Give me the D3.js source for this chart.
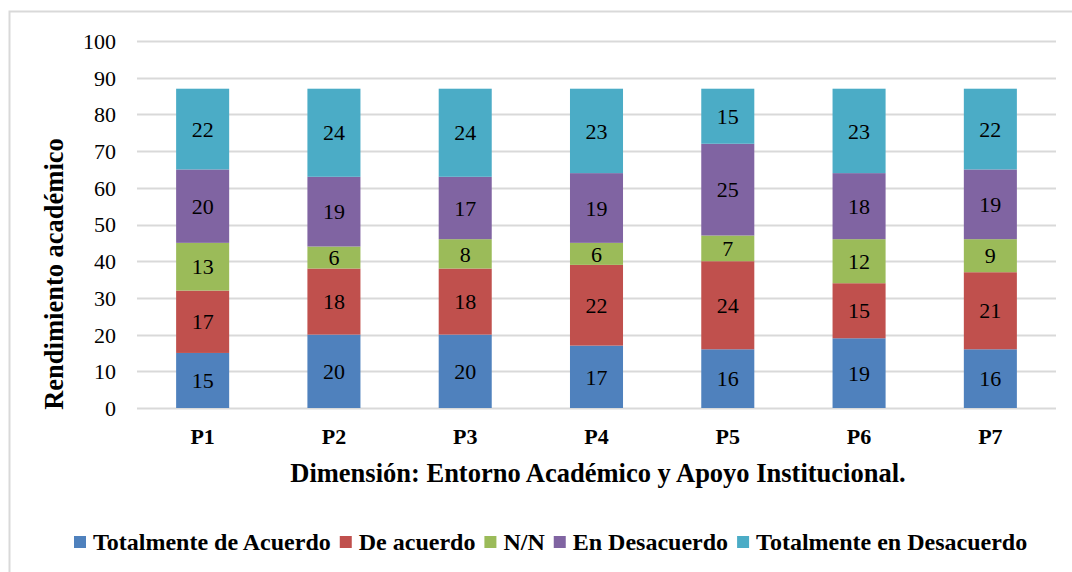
<!DOCTYPE html>
<html>
<head>
<meta charset="utf-8">
<script src="https://cdn.jsdelivr.net/npm/d3@7"></script>
<style>
  body { margin: 0; background: #fff; }
  svg { display: block; }
  svg text { font-family: "Liberation Serif", "Times New Roman", Times, serif; fill: #000; }
</style>
</head>
<body>
<svg id="chart" width="1072" height="572"></svg>
<script>
// Item labels on the x axis
const categories = ["P1", "P2", "P3", "P4", "P5", "P6", "P7"];
// Response categories, stacked bottom to top
const seriesNames = ["Totalmente de Acuerdo", "De acuerdo", "N/N", "En Desacuerdo", "Totalmente en Desacuerdo"];
const totalmenteDeAcuerdo   = [15, 20, 20, 17, 16, 19, 16];
const deAcuerdo             = [17, 18, 18, 22, 24, 15, 21];
const nn                    = [13, 6, 8, 6, 7, 12, 9];
const enDesacuerdo          = [20, 19, 17, 19, 25, 18, 19];
const totalmenteDesacuerdo  = [22, 24, 24, 23, 15, 23, 22];
const yTicks = [0, 10, 20, 30, 40, 50, 60, 70, 80, 90, 100];
const colors = ["#4F81BD", "#C0504D", "#9BBB59", "#8064A2", "#4BACC6"];

const seriesValues = [totalmenteDeAcuerdo, deAcuerdo, nn, enDesacuerdo, totalmenteDesacuerdo];
const rows = categories.map((c, i) => {
  const r = { cat: c };
  seriesNames.forEach((s, k) => r[s] = seriesValues[k][i]);
  return r;
});

const FONT = "Liberation Serif";
const svg = d3.select("#chart");
const plot = { left: 137, right: 1056, top: 41, bottom: 408 };

// Outer frame
svg.append("rect")
  .attr("x", 9.5).attr("y", 11.5)
  .attr("width", 1072).attr("height", 600)
  .attr("fill", "none").attr("stroke", "#d9d9d9").attr("stroke-width", 2);

const x = d3.scaleBand().domain(categories)
  .range([plot.left, plot.right]).paddingInner(0.596).paddingOuter(0.298);
const y = d3.scaleLinear().domain([0, 100]).range([plot.bottom, plot.top]);

// Gridlines
svg.append("g").selectAll("line").data(yTicks).join("line")
  .attr("x1", plot.left).attr("x2", plot.right)
  .attr("y1", d => Math.round(y(d)) + 0.5).attr("y2", d => Math.round(y(d)) + 0.5)
  .attr("stroke", "#d9d9d9").attr("stroke-width", 2);

// Y axis labels
const yAxis = d3.axisLeft(y).tickValues(yTicks).tickSize(0).tickPadding(0);
const gy = svg.append("g").attr("transform", `translate(${plot.left - 21},0)`).call(yAxis);
gy.select(".domain").remove();
gy.attr("font-family", FONT);
gy.selectAll("text").attr("font-size", 22).attr("font-family", FONT)
  .attr("fill", "#000").attr("dy", "0.34em");

// Stacked bars
const stack = d3.stack().keys(seriesNames)(rows);
const layers = svg.append("g").selectAll("g").data(stack).join("g")
  .attr("fill", (d, i) => colors[i]);
layers.selectAll("rect").data(d => d).join("rect")
  .attr("x", d => x(d.data.cat))
  .attr("width", x.bandwidth())
  .attr("y", d => y(d[1]))
  .attr("height", d => y(d[0]) - y(d[1]));

// Value labels
layers.selectAll("text").data(d => d.map(p => ({ p, key: d.key }))).join("text")
  .attr("x", d => x(d.p.data.cat) + x.bandwidth() / 2)
  .attr("y", d => (y(d.p[0]) + y(d.p[1])) / 2)
  .attr("dy", "0.35em")
  .attr("text-anchor", "middle")
  .attr("font-family", FONT)
  .attr("font-size", 22)
  .attr("fill", "#000")
  .text(d => d.p.data[d.key]);

// X axis labels
const xAxis = d3.axisBottom(x).tickSize(0).tickPadding(0);
const gx = svg.append("g").attr("transform", `translate(0,${plot.bottom})`).call(xAxis);
gx.select(".domain").remove();
gx.attr("font-family", FONT);
gx.selectAll("text").attr("font-size", 22).attr("font-weight", "bold").attr("font-family", FONT)
  .attr("fill", "#000").attr("y", 36).attr("dy", null);

// Axis titles
svg.append("text")
  .attr("x", 598).attr("y", 482)
  .attr("text-anchor", "middle").attr("font-size", 26.5).attr("font-weight", "bold")
  .attr("font-family", FONT)
  .text("Dimensión: Entorno Académico y Apoyo Institucional.");
svg.append("text")
  .attr("transform", "translate(63,274) rotate(-90)")
  .attr("text-anchor", "middle").attr("font-size", 26.5).attr("font-weight", "bold")
  .attr("font-family", FONT)
  .text("Rendimiento académico");

// Legend
const legend = svg.append("g");
let lx = 74;
seriesNames.forEach((name, i) => {
  const g = legend.append("g").attr("transform", `translate(${lx},536)`);
  g.append("rect").attr("width", 12).attr("height", 12).attr("fill", colors[i]);
  const t = g.append("text").attr("x", 19).attr("y", 14)
    .attr("font-family", FONT)
    .attr("font-size", 24).attr("font-weight", "bold").text(name);
  lx += 19 + t.node().getComputedTextLength() + 9;
});
</script>
</body>
</html>
